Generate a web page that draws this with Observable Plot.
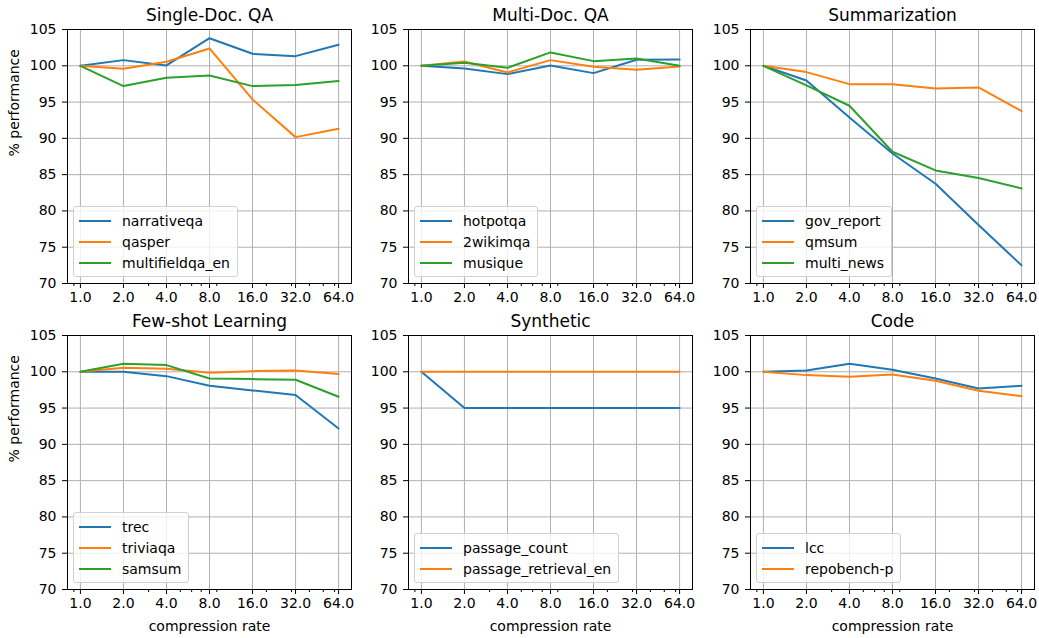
<!DOCTYPE html>
<html><head><meta charset="utf-8">
<script src="https://cdn.jsdelivr.net/npm/d3@7"></script>
<script src="https://cdn.jsdelivr.net/npm/@observablehq/plot@0.6"></script>
<style>
html,body{margin:0;padding:0;background:#fff;overflow:hidden}
#root{position:relative;width:1039px;height:638px;font-family:"DejaVu Sans",sans-serif;color:#000}
.panel{position:absolute}
.legend{position:absolute;background:rgba(255,255,255,0.8);border:1px solid #d0d0d0;border-radius:3px;padding:3px 7px 3px 5px;font-size:14px;font-family:"DejaVu Sans",sans-serif}
.row{display:flex;align-items:center;height:21px;white-space:nowrap}
.sw{width:32px;height:2px;margin-right:11px;flex:none}
</style></head><body><div id="root"></div><script>
// ---- data ----
const rates = [1, 2, 4, 8, 16, 32, 64];
const xTicks = [1, 2, 4, 8, 16, 32, 64];
const xMinor = [0.9, 3, 5, 6, 7, 9, 20, 30, 40, 50, 60];
const yTicks = [70, 75, 80, 85, 90, 95, 100, 105];
const colors = ["#1f77b4", "#ff7f0e", "#2ca02c"];
const titles = ["Single-Doc. QA", "Multi-Doc. QA", "Summarization", "Few-shot Learning", "Synthetic", "Code"];

const narrativeqa     = [100, 100.78, 100.05, 103.8, 101.65, 101.33, 102.9];
const qasper          = [100, 99.59, 100.55, 102.39, 95.36, 90.17, 91.32];
const multifieldqa_en = [100, 97.2, 98.35, 98.67, 97.2, 97.34, 97.89];

const hotpotqa = [100, 99.63, 98.85, 100.05, 98.99, 100.83, 100.87];
const wikimqa  = [100, 100.6, 99.08, 100.78, 99.86, 99.45, 99.9];
const musique  = [100, 100.41, 99.72, 101.84, 100.64, 101.0, 100.0];

const gov_report = [100, 97.98, 92.88, 87.92, 83.75, 78.05, 72.5];
const qmsum      = [100, 99.13, 97.47, 97.47, 96.88, 97.01, 93.76];
const multi_news = [100, 97.29, 94.49, 88.15, 85.58, 84.53, 83.1];

const trec     = [100, 100, 99.4, 98.07, 97.43, 96.79, 92.19];
const triviaqa = [100, 100.55, 100.41, 99.86, 100.09, 100.18, 99.68];
const samsum   = [100, 101.1, 100.92, 99.08, 98.99, 98.9, 96.56];

const passage_count        = [100, 95, 95, 95, 95, 95, 95];
const passage_retrieval_en = [100, 100, 100, 100, 100, 100, 100];

const lcc         = [100, 100.18, 101.1, 100.28, 99.08, 97.7, 98.07];
const repobench_p = [100, 99.54, 99.31, 99.63, 98.76, 97.38, 96.65];

const panelSeries = [
  [["narrativeqa", narrativeqa], ["qasper", qasper], ["multifieldqa_en", multifieldqa_en]],
  [["hotpotqa", hotpotqa], ["2wikimqa", wikimqa], ["musique", musique]],
  [["gov_report", gov_report], ["qmsum", qmsum], ["multi_news", multi_news]],
  [["trec", trec], ["triviaqa", triviaqa], ["samsum", samsum]],
  [["passage_count", passage_count], ["passage_retrieval_en", passage_retrieval_en]],
  [["lcc", lcc], ["repobench-p", repobench_p]]
];

// ---- layout ----
const root = document.getElementById("root");
const frameLefts = [67, 408, 750];
const frameTops = [29, 335];
const FW = 284, FH = 254;
const gridStyle = {stroke: "#b0b0b0", strokeOpacity: 1, strokeWidth: 1};

panelSeries.forEach((series, i) => {
  const r = Math.floor(i / 3), c = i % 3;
  const names = series.map(s => s[0]);
  const rows = series.flatMap(([name, vals]) => vals.map((v, j) => ({series: name, rate: rates[j], value: v})));
  const marginLeft = c === 0 ? 67 : 50;
  const marginRight = 5;
  const marginTop = 29;
  const marginBottom = r === 1 ? 45 : 25;
  const marks = [
    Plot.gridX(xTicks, gridStyle),
    Plot.gridY(yTicks, gridStyle),
    Plot.line(rows, {x: "rate", y: "value", z: "series", stroke: "series", strokeWidth: 2}),
    Plot.frame({stroke: "black", strokeWidth: 1}),
    Plot.axisX(xTicks, {tickSize: 5, tickPadding: 4, tickFormat: d3.format(".1f"), label: null}),
    Plot.axisX(xMinor, {tickSize: 3, tickFormat: () => "", label: null}),
    Plot.axisY(yTicks, {tickSize: 5, tickPadding: 6, label: null}),
    Plot.text([titles[i]], {text: d => d, frameAnchor: "top", lineAnchor: "middle", dy: -14, fontSize: 17})
  ];
  if (c === 0) marks.push(Plot.text(["% performance"], {text: d => d, frameAnchor: "left", lineAnchor: "middle", rotate: -90, dx: -53, fontSize: 14}));
  if (r === 1) marks.push(Plot.text(["compression rate"], {text: d => d, frameAnchor: "bottom", lineAnchor: "middle", dy: 37, fontSize: 14}));
  const chart = Plot.plot({
    width: marginLeft + FW + marginRight,
    height: marginTop + FH + marginBottom,
    marginLeft, marginRight, marginTop, marginBottom,
    style: {fontFamily: "DejaVu Sans", fontSize: "14px", color: "black", background: "white", overflow: "visible"},
    x: {type: "log", base: 2, domain: [2 ** -0.3, 2 ** 6.3], label: null},
    y: {domain: [70, 105], label: null},
    color: {domain: names, range: colors},
    marks
  });
  const wrap = document.createElement("div");
  wrap.className = "panel";
  wrap.style.left = (frameLefts[c] - marginLeft) + "px";
  wrap.style.top = (frameTops[r] - marginTop) + "px";
  wrap.appendChild(chart);
  root.appendChild(wrap);

  const lg = document.createElement("div");
  lg.className = "legend";
  lg.style.left = (frameLefts[c] + 6) + "px";
  lg.style.bottom = (638 - (frameTops[r] + FH - 6)) + "px";
  names.forEach((n, k) => {
    const row = document.createElement("div");
    row.className = "row";
    const sw = document.createElement("div");
    sw.className = "sw";
    sw.style.background = colors[k];
    const t = document.createElement("span");
    t.textContent = n;
    row.appendChild(sw); row.appendChild(t);
    lg.appendChild(row);
  });
  root.appendChild(lg);
});
</script></body></html>
